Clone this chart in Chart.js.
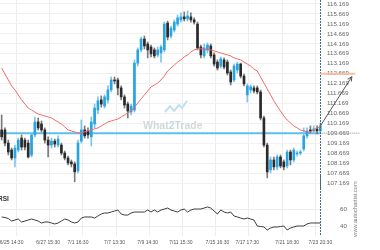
<!DOCTYPE html>
<html lang="en">
<head>
<meta charset="UTF-8" />
<title>Price chart with RSI</title>
<script src="https://cdn.jsdelivr.net/npm/chart.js"></script>
<style>
  html, body { margin: 0; padding: 0; background: #fff; }
  .wrap { position: relative; width: 380px; height: 250px; overflow: hidden; }
  canvas { position: absolute; left: 0; }
  #priceChart { top: 0; }
  #rsiChart { top: 176px; }
</style>
</head>
<body>
<div class="wrap">
  <canvas id="priceChart" width="380" height="190"></canvas>
  <canvas id="rsiChart" width="380" height="74"></canvas>
</div>

<script>
// candles
const openP = [109.84,109.84,109.18,108.83,108.43,108.83,109.43,109.33,109.18,108.58,
  109.59,110.24,110.14,109.84,109.33,109.08,109.28,109.08,109.08,108.68,
  108.43,108.23,108.13,107.78,109.28,109.84,109.79,109.49,110.14,110.84,
  111.35,111.04,111.35,111.85,112.35,112.35,111.95,111.50,111.14,110.74,
  110.84,113.20,113.86,114.41,114.16,114.01,113.86,113.61,113.71,113.86,
  115.21,114.56,114.86,115.16,115.37,115.52,115.42,115.52,115.37,115.16,
  114.01,113.56,113.86,114.06,113.61,113.25,113.05,113.36,113.25,112.75,
  112.35,112.85,113.15,112.55,111.60,111.85,111.95,111.95,111.75,110.44,
  109.08,107.83,108.33,107.98,108.48,108.23,108.03,108.73,108.33,108.63,
  108.68,108.88,109.54,109.84,109.79,109.89,109.79];
const highP = [110.59,109.94,109.33,108.93,109.08,109.43,109.59,109.43,109.33,109.69,
  110.49,110.44,110.29,109.94,109.49,109.43,109.38,109.54,109.18,108.78,
  108.53,108.33,108.23,109.33,110.34,110.04,109.94,110.49,111.14,111.50,
  111.55,111.60,112.05,112.50,112.50,112.45,112.05,111.60,111.24,111.14,
  113.36,113.96,114.51,114.56,114.26,114.11,113.96,114.01,114.11,115.26,
  115.31,115.06,115.37,115.62,115.72,115.77,115.82,115.72,115.47,115.26,
  114.11,114.16,114.21,114.16,113.71,113.36,113.51,113.46,113.36,112.85,
  113.15,113.25,113.20,112.65,112.15,112.10,112.05,112.05,111.85,110.54,
  109.18,108.48,108.48,108.58,108.58,108.33,108.83,108.83,108.93,108.78,
  108.83,109.94,109.94,110.04,110.04,110.04,110.19];
const lowP = [109.33,109.03,108.58,108.33,107.98,108.73,108.83,108.83,108.43,108.48,
  109.49,109.84,109.74,109.18,108.48,108.93,108.98,108.98,108.58,108.33,
  108.08,107.98,107.23,107.68,109.18,109.43,109.43,109.03,109.94,110.64,
  110.99,110.94,111.19,111.75,112.15,111.60,111.35,110.94,110.44,110.59,
  110.74,113.05,113.76,113.91,113.46,113.51,113.46,113.51,113.25,113.76,
  114.36,114.46,114.76,115.06,115.26,115.31,115.31,115.26,115.16,113.86,
  113.46,113.46,113.71,113.46,113.05,112.85,112.95,112.90,112.60,112.10,
  112.25,112.70,112.45,112.05,111.24,111.70,111.70,111.65,110.34,108.98,
  107.43,107.68,107.83,107.83,107.93,107.83,107.93,108.08,108.23,108.53,
  108.58,108.78,109.43,109.69,109.69,109.64,109.74];
const closeP = [109.49,109.18,108.73,108.43,108.93,109.33,108.98,108.98,108.48,109.59,
  110.24,109.94,109.84,109.33,109.08,109.28,109.13,109.38,108.68,108.43,
  108.18,108.13,107.73,109.18,109.84,109.54,109.59,110.24,110.94,111.30,
  111.14,111.50,111.85,112.35,112.30,111.95,111.50,111.09,110.79,111.04,
  113.20,113.86,114.41,114.06,113.86,113.66,113.56,113.86,114.01,115.16,
  114.51,114.96,115.26,115.47,115.52,115.42,115.57,115.37,115.26,113.96,
  113.61,113.96,114.11,113.56,113.15,112.95,113.41,113.00,112.70,112.25,
  113.05,113.15,112.55,112.15,112.05,112.00,111.80,111.75,110.44,109.08,
  107.73,108.33,107.98,108.48,108.03,107.98,108.73,108.33,108.83,108.68,
  108.73,109.54,109.79,109.79,109.89,109.79,110.04];

// moving average (red line)
const maLine = [112.95,112.65,112.35,112.05,111.85,111.60,111.35,111.14,110.94,110.84,
  110.74,110.64,110.59,110.54,110.49,110.44,110.34,110.24,110.14,109.99,
  109.84,109.79,109.74,109.69,109.69,109.74,109.79,109.84,109.89,109.94,
  110.04,110.14,110.24,110.29,110.34,110.39,110.49,110.59,110.69,110.79,
  110.99,111.19,111.40,111.60,111.80,112.00,112.10,112.20,112.35,112.55,
  112.80,112.95,113.10,113.25,113.36,113.51,113.61,113.76,113.86,113.91,
  113.91,113.91,113.86,113.86,113.81,113.76,113.71,113.66,113.61,113.56,
  113.46,113.41,113.36,113.25,113.15,113.05,112.90,112.80,112.50,112.20,
  111.90,111.60,111.30,111.04,110.79,110.54,110.34,110.19,110.04,109.94,
  109.84,109.79,109.74,109.74,109.84,109.94,109.99];

// RSI panel
const rsiLine = [51.0,50.4,49.3,46.4,47.6,48.7,45.3,46.4,47.6,48.7,
  47.6,46.4,44.2,45.3,45.3,44.2,43.1,44.2,46.4,48.7,
  47.6,45.3,44.2,45.3,49.8,51.0,51.0,51.0,49.8,52.1,
  54.4,55.5,55.5,56.6,57.7,58.9,54.4,53.2,53.2,55.5,
  56.6,56.6,56.6,56.6,58.9,56.6,58.9,56.6,58.9,60.0,
  61.1,58.9,57.7,56.6,58.9,60.0,56.6,58.9,60.0,60.0,
  60.0,61.1,62.3,61.1,57.7,54.4,58.9,56.6,55.5,56.6,
  52.1,51.0,49.8,48.7,49.8,48.7,47.6,40.8,40.2,39.7,
  36.3,38.5,39.7,39.7,40.2,40.8,36.3,38.5,39.7,40.8,
  40.8,40.8,43.1,44.2,44.2,44.2,44.2];

const priceTicks = [107.169,107.669,108.169,108.669,109.169,109.669,110.169,110.669,111.169,
  111.669,112.169,112.669,113.169,113.669,114.169,114.669,115.169,115.669,116.169];
const rsiTicks = [40, 60];
const dateLabels = ['6/25 14:30','6/27 15:30','7/1 16:30','7/7 13:30','7/9 14:30',
  '7/11 15:30','7/15 16:30','7/17 17:30','7/21 18:30','7/23 20:30'];
const dateLabelAt = [3, 14, 23, 34, 44, 54, 65, 74, 86, 96];

const levelPrice = 109.669;   // support line
const targetPrice = 112.669;  // forecast level
const forecastBars = 9.5;

const categories = closeP.map((_, i) => String(i));

const upColor = '#27a4e2', downColor = '#2b2b2b';
const upWick = '#7cc4ea', downWick = '#7a7a7a';
const FONT = '"Liberation Sans", Arial, sans-serif';

Chart.defaults.font.family = FONT;
Chart.defaults.color = '#666';

const isUp = i => closeP[i] >= openP[i];
const xGrid = ctx => (ctx.index % 10 === 5 ? '#ededed' : 'rgba(0,0,0,0)');
const last = closeP.length - 1;

function drawVertical(chart, top, bottom) {
  const {ctx, scales: {x}} = chart;
  const xl = Math.round(x.getPixelForValue(last)) + 0.5;
  ctx.save();
  ctx.strokeStyle = '#3f7077';
  ctx.lineWidth = 1;
  ctx.setLineDash([2, 1]);
  ctx.beginPath();
  ctx.moveTo(xl, top);
  ctx.lineTo(xl, bottom);
  ctx.stroke();
  ctx.restore();
}

const priceMarks = {
  id: 'priceMarks',
  beforeDatasetsDraw(chart) {
    const {ctx, chartArea: a, scales: {x, y}} = chart;
    ctx.save();
    // watermark
    ctx.font = 'bold 10.5px ' + FONT;
    ctx.textBaseline = 'middle';
    ctx.textAlign = 'left';
    let tx = 143, ty = 126;
    ctx.fillStyle = '#d3d7db';
    ctx.fillText('What', tx, ty);
    tx += ctx.measureText('What').width;
    ctx.fillStyle = '#b9dcf0';
    ctx.fillText('2', tx, ty);
    tx += ctx.measureText('2').width;
    ctx.fillStyle = '#d3d7db';
    ctx.fillText('Trade', tx, ty);
    ctx.strokeStyle = '#bfdff2';
    ctx.lineWidth = 2;
    ctx.beginPath();
    ctx.moveTo(165, 112); ctx.lineTo(170, 106); ctx.lineTo(174, 111);
    ctx.lineTo(179, 105); ctx.lineTo(182, 108); ctx.lineTo(187, 101);
    ctx.stroke();

    // support level
    const yl = y.getPixelForValue(levelPrice);
    const xl = x.getPixelForValue(last);
    ctx.strokeStyle = '#5dbfec';
    ctx.lineWidth = 2;
    ctx.beginPath();
    ctx.moveTo(a.left, yl);
    ctx.lineTo(xl, yl);
    ctx.stroke();
    ctx.restore();
  },
  afterDatasetsDraw(chart) {
    const {ctx, scales: {x, y}} = chart;
    const xl = x.getPixelForValue(last);
    const yl = y.getPixelForValue(levelPrice);
    ctx.save();
    // dotted continuation of the level
    ctx.strokeStyle = '#b5b5b5';
    ctx.lineWidth = 1.5;
    ctx.setLineDash([1, 1]);
    ctx.beginPath();
    ctx.moveTo(xl, yl);
    ctx.lineTo(x.getPixelForValue(last + 12), yl);
    ctx.stroke();
    ctx.restore();

    drawVertical(chart, 0, chart.height);

    ctx.save();
    // target level
    const yt = y.getPixelForValue(targetPrice);
    ctx.strokeStyle = '#f8c0a2';
    ctx.lineWidth = 2;
    ctx.beginPath();
    ctx.moveTo(xl, yt);
    ctx.lineTo(x.getPixelForValue(last + 10.5), yt);
    ctx.stroke();

    // forecast arrow
    const x0 = xl, y0 = y.getPixelForValue(closeP[last]);
    const x1 = x.getPixelForValue(last + forecastBars), y1 = yt + 3;
    const ang = Math.atan2(y1 - y0, x1 - x0);
    ctx.strokeStyle = '#555';
    ctx.lineWidth = 1;
    ctx.beginPath();
    ctx.moveTo(x0, y0);
    ctx.lineTo(x1, y1);
    ctx.moveTo(x1 - 5 * Math.cos(ang - 0.45), y1 - 5 * Math.sin(ang - 0.45));
    ctx.lineTo(x1, y1);
    ctx.lineTo(x1 - 5 * Math.cos(ang + 0.45), y1 - 5 * Math.sin(ang + 0.45));
    ctx.stroke();
    ctx.restore();
  }
};

const rsiMarks = {
  id: 'rsiMarks',
  afterDatasetsDraw(chart) {
    const {ctx, chartArea: a} = chart;
    drawVertical(chart, 0, a.bottom);
    ctx.save();
    ctx.fillStyle = '#333';
    ctx.font = 'bold 6.5px ' + FONT;
    ctx.textBaseline = 'middle';
    ctx.textAlign = 'left';
    ctx.fillText('RSI', -2, 23);
    ctx.translate(355.5, 33);
    ctx.rotate(-Math.PI / 2);
    ctx.textAlign = 'center';
    ctx.font = '5.7px ' + FONT;
    ctx.fillStyle = '#777';
    ctx.fillText('www.autochartist.com', 0, 0);
    ctx.restore();
  }
};

new Chart(document.getElementById('priceChart'), {
  type: 'bar',
  data: {
    labels: categories,
    datasets: [
      {
        type: 'line', data: maLine, order: 0,
        borderColor: '#f26a6a', borderWidth: 1, pointRadius: 0, tension: 0
      },
      {
        data: openP.map((o, i) => [o, closeP[i]]), order: 1,
        grouped: false, barThickness: 2, minBarLength: 1,
        backgroundColor: c => (isUp(c.dataIndex) ? upColor : downColor)
      },
      {
        data: lowP.map((l, i) => [l, highP[i]]), order: 2,
        grouped: false, barThickness: 1,
        backgroundColor: c => (isUp(c.dataIndex) ? upWick : downWick)
      }
    ]
  },
  options: {
    responsive: false,
    devicePixelRatio: 1,
    animation: false,
    layout: { padding: 0 },
    plugins: { legend: { display: false }, tooltip: { enabled: false } },
    scales: {
      x: {
        offset: true,
        ticks: { display: false, autoSkip: false },
        grid: { offset: true, drawTicks: false, color: xGrid },
        border: { display: false },
        afterFit: s => { s.height = 0; s.paddingLeft = 0; s.paddingRight = 0; }
      },
      y: {
        position: 'right',
        min: 106.82, max: 116.37,
        afterBuildTicks: s => { s.ticks = priceTicks.map(v => ({ value: v })); },
        afterFit: s => { s.width = 58; s.paddingTop = 0; s.paddingBottom = 0; },
        grid: { color: '#f1f1f1', drawTicks: false },
        border: { display: false },
        ticks: {
          autoSkip: false, padding: 5, color: '#666', font: { size: 6.2 },
          callback: v => v.toFixed(3)
        }
      }
    }
  },
  plugins: [priceMarks]
});

new Chart(document.getElementById('rsiChart'), {
  type: 'line',
  data: {
    labels: categories,
    datasets: [{
      data: rsiLine, borderColor: '#3c3c3c', borderWidth: 1, pointRadius: 0, tension: 0
    }]
  },
  options: {
    responsive: false,
    devicePixelRatio: 1,
    animation: false,
    layout: { padding: { top: 14, left: 0, right: 0, bottom: 0 } },
    plugins: { legend: { display: false }, tooltip: { enabled: false } },
    scales: {
      x: {
        offset: true,
        grid: { offset: true, drawTicks: false, color: xGrid },
        border: { display: false },
        ticks: {
          autoSkip: false, maxRotation: 0, minRotation: 0, padding: 4,
          color: '#555', font: { size: 5 },
          callback: (v, i) => {
            const k = dateLabelAt.indexOf(i);
            return k >= 0 ? dateLabels[k] : '';
          }
        },
        afterFit: s => { s.height = 14; s.paddingLeft = 0; s.paddingRight = 0; }
      },
      y: {
        position: 'right',
        min: 29.5, max: 81.5,
        afterBuildTicks: s => { s.ticks = rsiTicks.map(v => ({ value: v })); },
        afterFit: s => { s.width = 58; s.paddingTop = 0; s.paddingBottom = 0; },
        grid: { color: '#ececec', drawTicks: false },
        border: { display: false },
        ticks: { autoSkip: false, padding: 18, color: '#666', font: { size: 6.2 } }
      }
    }
  },
  plugins: [rsiMarks]
});
</script>
</body>
</html>
